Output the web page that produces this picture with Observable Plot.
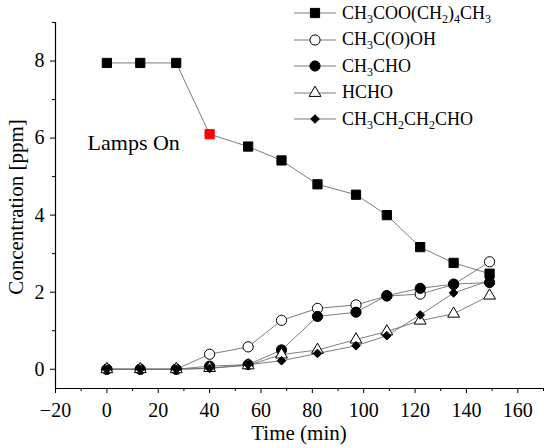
<!DOCTYPE html>
<html><head><meta charset="utf-8">
<script src="https://cdn.jsdelivr.net/npm/d3@7"></script>
<script src="https://cdn.jsdelivr.net/npm/@observablehq/plot@0.6"></script>
<style>
body{margin:0;background:#fff;}
#wrap{position:relative;width:550px;height:448px;font-family:"Liberation Serif","Times New Roman",serif;color:#000;}
#legend{position:absolute;left:294px;top:0;font-size:18px;}
.row{height:26.5px;display:flex;align-items:center;white-space:nowrap;}
.row svg{margin-right:6px;flex:none}
sub{font-size:12px;vertical-align:-4px;line-height:0}
.ytitle{position:absolute;left:15.5px;top:207px;font-size:21px;line-height:1;white-space:nowrap;transform:translate(-50%,-50%) rotate(-90deg);}
.xtitle{position:absolute;left:299px;top:423px;font-size:21px;line-height:1;white-space:nowrap;transform:translateX(-50%);}
</style></head><body><div id="wrap"><div id="chart"></div><div id="legend"></div>
<div class="ytitle">Concentration [ppm]</div><div class="xtitle">Time (min)</div></div>
<script>
// ---- data ----
const time = [0, 13, 27, 40, 55, 68, 82, 97, 109, 122, 135, 149];
const pentylAcetate = [7.95, 7.95, 7.95, 6.1, 5.78, 5.42, 4.8, 4.53, 4.0, 3.17, 2.76, 2.48];
const aceticAcid   = [0, 0, 0, 0.39, 0.58, 1.27, 1.58, 1.67, 1.9, 1.95, 2.2, 2.79];
const acetaldehyde = [0, 0, 0, 0.08, 0.12, 0.5, 1.37, 1.48, 1.91, 2.1, 2.21, 2.25];
const formaldehyde = [0, 0, 0, 0.03, 0.1, 0.38, 0.5, 0.77, 0.98, 1.26, 1.44, 1.91];
const butanal      = [0, 0, 0, 0.02, 0.12, 0.22, 0.41, 0.61, 0.87, 1.41, 1.98, 2.3];
const seriesLabels = [
  "CH<sub>3</sub>COO(CH<sub>2</sub>)<sub>4</sub>CH<sub>3</sub>",
  "CH<sub>3</sub>C(O)OH",
  "CH<sub>3</sub>CHO",
  "HCHO",
  "CH<sub>3</sub>CH<sub>2</sub>CH<sub>2</sub>CHO"
];
const xTicks = [-20, 0, 20, 40, 60, 80, 100, 120, 140, 160];
const xMinorTicks = [-10, 10, 30, 50, 70, 90, 110, 130, 150, 170];
const yTicks = [0, 2, 4, 6, 8];
const yMinorTicks = [1, 3, 5, 7, 9];
const lampsOnTime = 40;
const annotation = [{t: -7.5, v: 5.87, text: "Lamps On"}];

// ---- styles (not data) ----
const seriesValues = [pentylAcetate, aceticAcid, acetaldehyde, formaldehyde, butanal];
const styles = [
  {symbol: "square",   fill: "black", r: 5.2},
  {symbol: "circle",   fill: "white", r: 5.1},
  {symbol: "circle",   fill: "black", r: 5.1},
  {symbol: "triangle", fill: "white", r: 4.4},
  {symbol: "diamond2", fill: "black", r: 3.9}
];
const series = seriesValues.map((vals, s) =>
  time.map((t, i) => ({t, v: vals[i], s}))
);

const lineColor = "#6e6e6e";
const marks = [
  Plot.ruleX([-20], {stroke: "black", strokeWidth: 1.2}),
  Plot.ruleY([-0.5], {stroke: "black", strokeWidth: 1.2}),
  Plot.axisY({ticks: yTicks, tickSize: 5, tickPadding: 6, label: null, fontSize: 20}),
  Plot.axisY({ticks: yMinorTicks, tickSize: 3, text: null, label: null}),
  Plot.axisX({ticks: xTicks, tickSize: 5, tickPadding: 9, label: null, fontSize: 20}),
  Plot.axisX({ticks: xMinorTicks, tickSize: 3, text: null, label: null}),
];
series.forEach(d => marks.push(Plot.line(d, {x: "t", y: "v", stroke: lineColor, strokeWidth: 0.9})));
series.forEach((d, s) => {
  const st = styles[s];
  marks.push(Plot.dot(d, {
    x: "t", y: "v", symbol: () => st.symbol, r: st.r,
    fill: s === 0 ? (p => p.t === lampsOnTime ? "#ff0000" : "black") : st.fill,
    stroke: s === 0 ? (p => p.t === lampsOnTime ? "#ff0000" : "black") : "black",
    strokeWidth: 1
  }));
});
marks.push(Plot.text(annotation, {x: "t", y: "v", text: "text", textAnchor: "start", fontSize: 22, fill: "black"}));

const chart = Plot.plot({
  width: 550, height: 448,
  marginLeft: 55, marginRight: 7, marginTop: 22, marginBottom: 60,
  x: {domain: [-20, 170]},
  y: {domain: [-0.5, 9]},
  symbol: {type: "identity"},
  style: {fontFamily: "Liberation Serif, Times New Roman, serif", fontSize: "20px", color: "black", background: "white"},
  marks
});
document.getElementById("chart").appendChild(chart);

// ---- legend ----
const legend = d3.select("#legend");
const symMap = {square: d3.symbolSquare, circle: d3.symbolCircle, triangle: d3.symbolTriangle, diamond2: d3.symbolDiamond2};
seriesLabels.forEach((lab, s) => {
  const st = styles[s];
  const row = legend.append("div").attr("class", "row");
  const svg = row.append("svg").attr("width", 42).attr("height", 20);
  svg.append("line").attr("x1", 0).attr("x2", 42).attr("y1", 10).attr("y2", 10)
    .attr("stroke", lineColor).attr("stroke-width", 0.9);
  svg.append("path").attr("transform", "translate(21,10)")
    .attr("d", d3.symbol(symMap[st.symbol], Math.PI * st.r * st.r)())
    .attr("fill", st.fill).attr("stroke", "black").attr("stroke-width", 1);
  row.append("span").html(lab);
});
</script></body></html>
